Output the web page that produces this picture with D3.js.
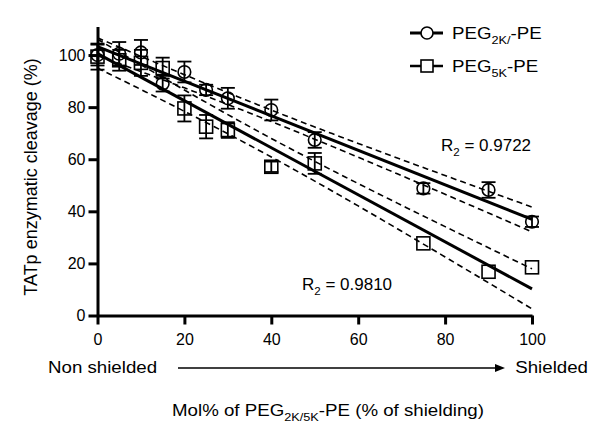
<!DOCTYPE html>
<html><head><meta charset="utf-8">
<script src="https://cdn.jsdelivr.net/npm/d3@7"></script>
<style>body{margin:0;background:#fff;} svg{display:block;font-family:"Liberation Sans",Arial,sans-serif;}</style>
</head><body><svg id="c" width="600" height="427"></svg>
<script>
// ---- data ----
const molPercent = [0, 5, 10, 15, 20, 25, 30, 40, 50, 75, 90, 100];
const peg2kMean  = [100, 100.5, 101, 89, 93.5, 86.6, 83.4, 78.9, 67.4, 48.8, 48.2, 36];
const peg2kErr   = [4, 4.5, 4.8, 3, 4, 2, 4, 4, 3, 2, 3, 2];
const peg5kMean  = [99.4, 98, 97, 95, 79.5, 72.5, 71.2, 57.1, 58.4, 27.7, 16.8, 18.5];
const peg5kErr   = [5, 4, 5, 4, 5, 4.5, 3, 2, 4, 0, 0, 0];
const xTickValues = [0, 20, 40, 60, 80, 100];
const yTickValues = [0, 20, 40, 60, 80, 100];
const r2Values = ["0.9722", "0.9810"];
const tCrit = 2.228; // t(0.975, df=10)

const svg = d3.select("#c");
const x = d3.scaleLinear().domain([0, 100]).range([97.5, 532]);
const y = d3.scaleLinear().domain([0, 111]).range([315.5, 26.4]);

// ---- regression with 95% confidence band ----
function fit(xs, ys) {
  const n = xs.length, mx = d3.mean(xs), my = d3.mean(ys);
  let sxx = 0, sxy = 0;
  xs.forEach((xi, i) => { sxx += (xi - mx) ** 2; sxy += (xi - mx) * (ys[i] - my); });
  const b = sxy / sxx, a = my - b * mx;
  let ss = 0; xs.forEach((xi, i) => { ss += (ys[i] - (a + b * xi)) ** 2; });
  const s = Math.sqrt(ss / (n - 2));
  const hw = xv => tCrit * s * Math.sqrt(1 / n + (xv - mx) ** 2 / sxx);
  return { a, b, hw };
}
const grid = d3.range(0, 100.01, 1);
const line = d3.line().x(d => x(d[0])).y(d => y(d[1]));

function drawFit(f) {
  [1, -1].forEach(sg => {
    svg.append("path").attr("d", line(grid.map(g => [g, f.a + f.b * g + sg * f.hw(g)])))
      .attr("fill", "none").attr("stroke", "#000").attr("stroke-width", 1.6).attr("stroke-dasharray", "6,4");
  });
  svg.append("path").attr("d", line([[0, f.a], [100, f.a + f.b * 100]]))
    .attr("fill", "none").attr("stroke", "#000").attr("stroke-width", 3);
}
const f2 = fit(molPercent, peg2kMean);
const f5 = fit(molPercent, peg5kMean);
drawFit(f2);
drawFit(f5);

// ---- error bars and markers ----
function drawPoints(means, errs, shape) {
  const g = svg.append("g").attr("stroke", "#000").attr("fill", "none");
  molPercent.forEach((xv, i) => {
    if (!errs[i]) return;
    const cx = x(xv), top = y(means[i] + errs[i]), bot = y(means[i] - errs[i]);
    g.append("line").attr("x1", cx).attr("x2", cx).attr("y1", top).attr("y2", bot).attr("stroke-width", 1.8);
    g.append("line").attr("x1", cx - 7).attr("x2", cx + 7).attr("y1", top).attr("y2", top).attr("stroke-width", 1.8);
    g.append("line").attr("x1", cx - 7).attr("x2", cx + 7).attr("y1", bot).attr("y2", bot).attr("stroke-width", 1.8);
  });
  molPercent.forEach((xv, i) => {
    const cx = x(xv), cy = y(means[i]);
    if (shape === "circle") g.append("circle").attr("cx", cx).attr("cy", cy).attr("r", 6.3).attr("stroke-width", 1.6);
    else g.append("rect").attr("x", cx - 6.5).attr("y", cy - 6.5).attr("width", 13).attr("height", 13).attr("stroke-width", 1.6);
  });
}
drawPoints(peg2kMean, peg2kErr, "circle");
drawPoints(peg5kMean, peg5kErr, "square");

// ---- axes ----
const yAxis = svg.append("g").attr("transform", `translate(${x(0)},0)`)
  .call(d3.axisLeft(y).tickValues(yTickValues).tickSize(9).tickSizeOuter(0).tickPadding(3));
const xAxis = svg.append("g").attr("transform", `translate(0,${y(0)})`)
  .call(d3.axisBottom(x).tickValues(xTickValues).tickSize(9).tickSizeOuter(0).tickPadding(9));
[yAxis, xAxis].forEach(a => {
  a.selectAll("path,line").attr("stroke", "#000").attr("stroke-width", 3);
  a.selectAll("text").attr("font-size", 16).attr("fill", "#000").attr("font-family", '"Liberation Sans",Arial,sans-serif');
});

// ---- text helpers ----
function richText(parent, xPos, yPos, parts, size, anchor, sx) {
  const t = parent.append("text").attr("font-size", size).attr("text-anchor", anchor || "start")
    .attr("transform", `translate(${xPos},${yPos}) scale(${sx || 1},1)`).attr("fill", "#000");
  parts.forEach(p => {
    if (p.sub) t.append("tspan").attr("font-size", size * 0.68).attr("dy", size * 0.32).text(p.t);
    else t.append("tspan").attr("dy", p.after ? -size * 0.32 : 0).text(p.t);
  });
  return t;
}

// y label
svg.append("text").attr("transform", "translate(37,177) rotate(-90)").attr("text-anchor", "middle")
  .attr("font-size", 18).text("TATp enzymatic cleavage (%)");

// legend
const lg = svg.append("g");
lg.append("line").attr("x1", 410).attr("x2", 443).attr("y1", 33).attr("y2", 33).attr("stroke", "#000").attr("stroke-width", 3);
lg.append("circle").attr("cx", 427).attr("cy", 33).attr("r", 6).attr("fill", "#fff").attr("stroke", "#000").attr("stroke-width", 1.6);
richText(lg, 452, 39, [{t: "PEG"}, {t: "2K/", sub: true}, {t: "-PE", after: true}], 17, "start", 1.1);
lg.append("line").attr("x1", 410).attr("x2", 443).attr("y1", 66).attr("y2", 66).attr("stroke", "#000").attr("stroke-width", 2.5);
lg.append("rect").attr("x", 421).attr("y", 60).attr("width", 12).attr("height", 12).attr("fill", "#fff").attr("stroke", "#000").attr("stroke-width", 1.6);
richText(lg, 452, 72, [{t: "PEG"}, {t: "5K", sub: true}, {t: "-PE", after: true}], 17, "start", 1.1);

// R2 labels
richText(svg, 441, 151, [{t: "R"}, {t: "2", sub: true}, {t: " = " + r2Values[0], after: true}], 17, "start", 1);
richText(svg, 302, 290, [{t: "R"}, {t: "2", sub: true}, {t: " = " + r2Values[1], after: true}], 17, "start", 1);

// shielding arrow
svg.append("text").attr("transform", "translate(48,373) scale(1.1,1)").attr("font-size", 17).text("Non shielded");
svg.append("text").attr("transform", "translate(588,373) scale(1.1,1)").attr("text-anchor", "end").attr("font-size", 17).text("Shielded");
svg.append("line").attr("x1", 178).attr("x2", 496).attr("y1", 368).attr("y2", 368).attr("stroke", "#000").attr("stroke-width", 1.5);
svg.append("path").attr("d", "M495,364 L505,368 L495,372 Z").attr("fill", "#000");

// x title
richText(svg, 328, 416, [{t: "Mol% of PEG"}, {t: "2K/5K", sub: true}, {t: "-PE (% of shielding)", after: true}], 17, "middle", 1.1);
</script></body></html>
